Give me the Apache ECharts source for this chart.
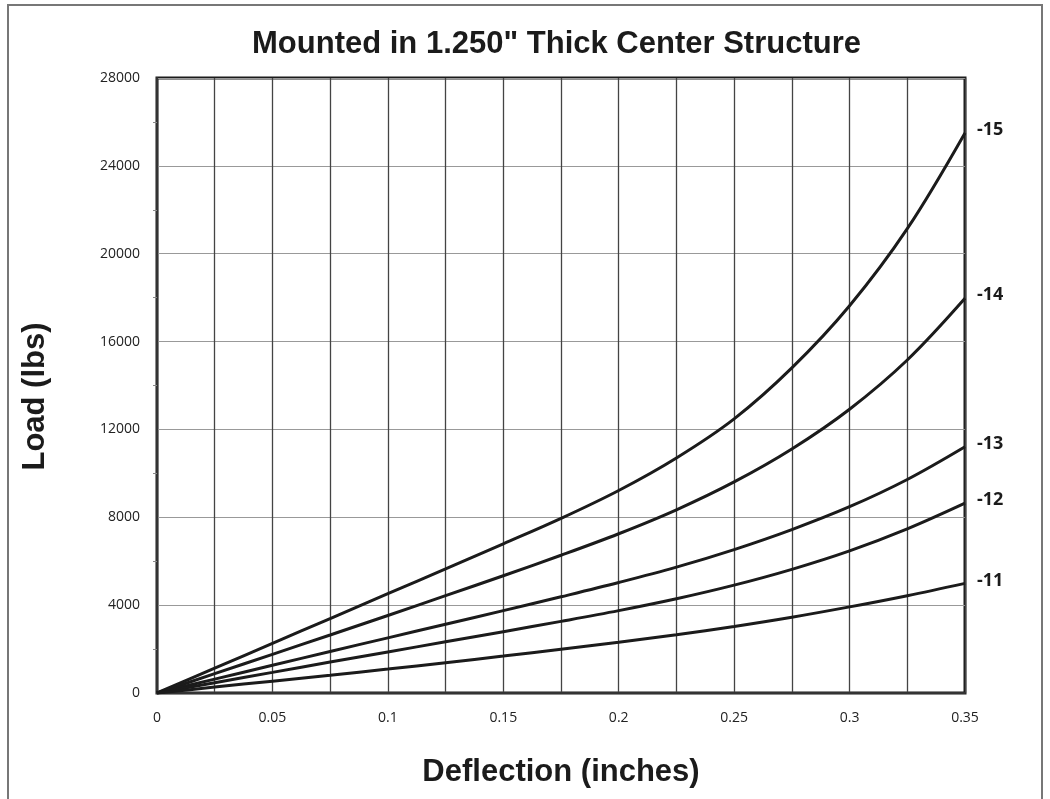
<!DOCTYPE html>
<html>
<head>
<meta charset="utf-8">
<script src="https://cdn.jsdelivr.net/npm/echarts@6/dist/echarts.min.js"></script>
<style>
html,body{margin:0;padding:0;background:#fff;}
#chart{width:1050px;height:799px;}
</style>
</head>
<body>
<div id="chart"></div>
<script>
const titleText = 'Mounted in 1.250" Thick Center Structure';
const xAxisName = 'Deflection (inches)';
const yAxisName = 'Load (lbs)';
const deflection = [0, 0.025, 0.05, 0.075, 0.1, 0.125, 0.15, 0.175, 0.2, 0.225, 0.25, 0.275, 0.3, 0.325, 0.35];
const seriesNames = ['-15', '-14', '-13', '-12', '-11'];
const load15 = [0, 1130, 2260, 3390, 4520, 5650, 6790, 7950, 9220, 10700, 12480, 14800, 17630, 21140, 25500];
const load14 = [0, 880, 1760, 2640, 3530, 4430, 5340, 6270, 7250, 8340, 9610, 11110, 12920, 15160, 17970];
const load13 = [0, 630, 1260, 1890, 2510, 3130, 3750, 4380, 5030, 5730, 6530, 7440, 8480, 9720, 11210];
const load12 = [0, 470, 940, 1410, 1870, 2330, 2790, 3260, 3750, 4290, 4910, 5630, 6470, 7470, 8640];
const load11 = [0, 270, 540, 810, 1090, 1380, 1680, 1990, 2310, 2650, 3030, 3450, 3920, 4430, 4990];
const allLoads = [load15, load14, load13, load12, load11];

const chart = echarts.init(document.getElementById('chart'));
const series = allLoads.map((vals, i) => ({
  name: seriesNames[i],
  type: 'line',
  smooth: 0.35,
  showSymbol: false,
  data: vals.map((v, j) => [deflection[j], v]),
  lineStyle: { color: '#1b1b1b', width: 3 },
  itemStyle: { color: '#1b1b1b' },
  endLabel: {
    show: true,
    formatter: seriesNames[i],
    distance: 12,
    offset: [0, -3],
    fontFamily: 'Open Sans',
    fontWeight: 'bold',
    fontSize: 18,
    color: '#1b1b1b'
  },
  emphasis: { disabled: true },
  animation: false
}));

chart.setOption({
  animation: false,
  title: {
    text: titleText,
    left: 247,
    top: 24,
    textStyle: { fontFamily: 'Liberation Sans', fontWeight: 'bold', fontSize: 31, color: '#1b1b1b' }
  },
  graphic: [{
    type: 'rect',
    shape: { x: 8, y: 5, width: 1034, height: 820 },
    style: { fill: 'none', stroke: '#777', lineWidth: 2 },
    silent: true
  }],
  grid: {
    left: 157, right: 85, top: 78, bottom: 106,
    show: true, borderColor: '#1b1b1b', borderWidth: 3
  },
  xAxis: {
    type: 'value',
    min: 0, max: 0.35, interval: 0.025,
    name: xAxisName,
    nameLocation: 'middle',
    nameGap: 64,
    nameTextStyle: { fontFamily: 'Liberation Sans', fontWeight: 'bold', fontSize: 31, color: '#1b1b1b' },
    axisLine: { show: true, lineStyle: { color: '#333', width: 2 } },
    axisTick: { show: false },
    axisLabel: {
      margin: 18,
      fontFamily: 'Open Sans', fontSize: 14, color: '#222',
      formatter: v => {
        const r = Math.round(v * 1000) / 1000;
        if (Math.abs(Math.round(r * 100) - r * 100) > 1e-6) return '';
        return String(r);
      }
    },
    splitLine: { show: true, lineStyle: { color: '#444', width: 1.3 } }
  },
  yAxis: {
    type: 'value',
    min: 0, max: 28000, interval: 4000,
    name: yAxisName,
    nameLocation: 'middle',
    nameGap: 106,
    nameRotate: 90,
    nameTextStyle: { fontFamily: 'Liberation Sans', fontWeight: 'bold', fontSize: 31, color: '#1b1b1b', padding: [0, 22, 0, 0] },
    axisLine: { show: true, lineStyle: { color: '#333', width: 2 } },
    axisTick: { show: false },
    minorTick: { show: true, splitNumber: 2, length: 4, lineStyle: { color: '#888' } },
    axisLabel: { margin: 17, fontFamily: 'Open Sans', fontSize: 14, color: '#222', formatter: v => String(v) },
    splitLine: { show: true, lineStyle: { color: '#999', width: 1.2 } }
  },
  series: series
});
</script>
</body>
</html>
